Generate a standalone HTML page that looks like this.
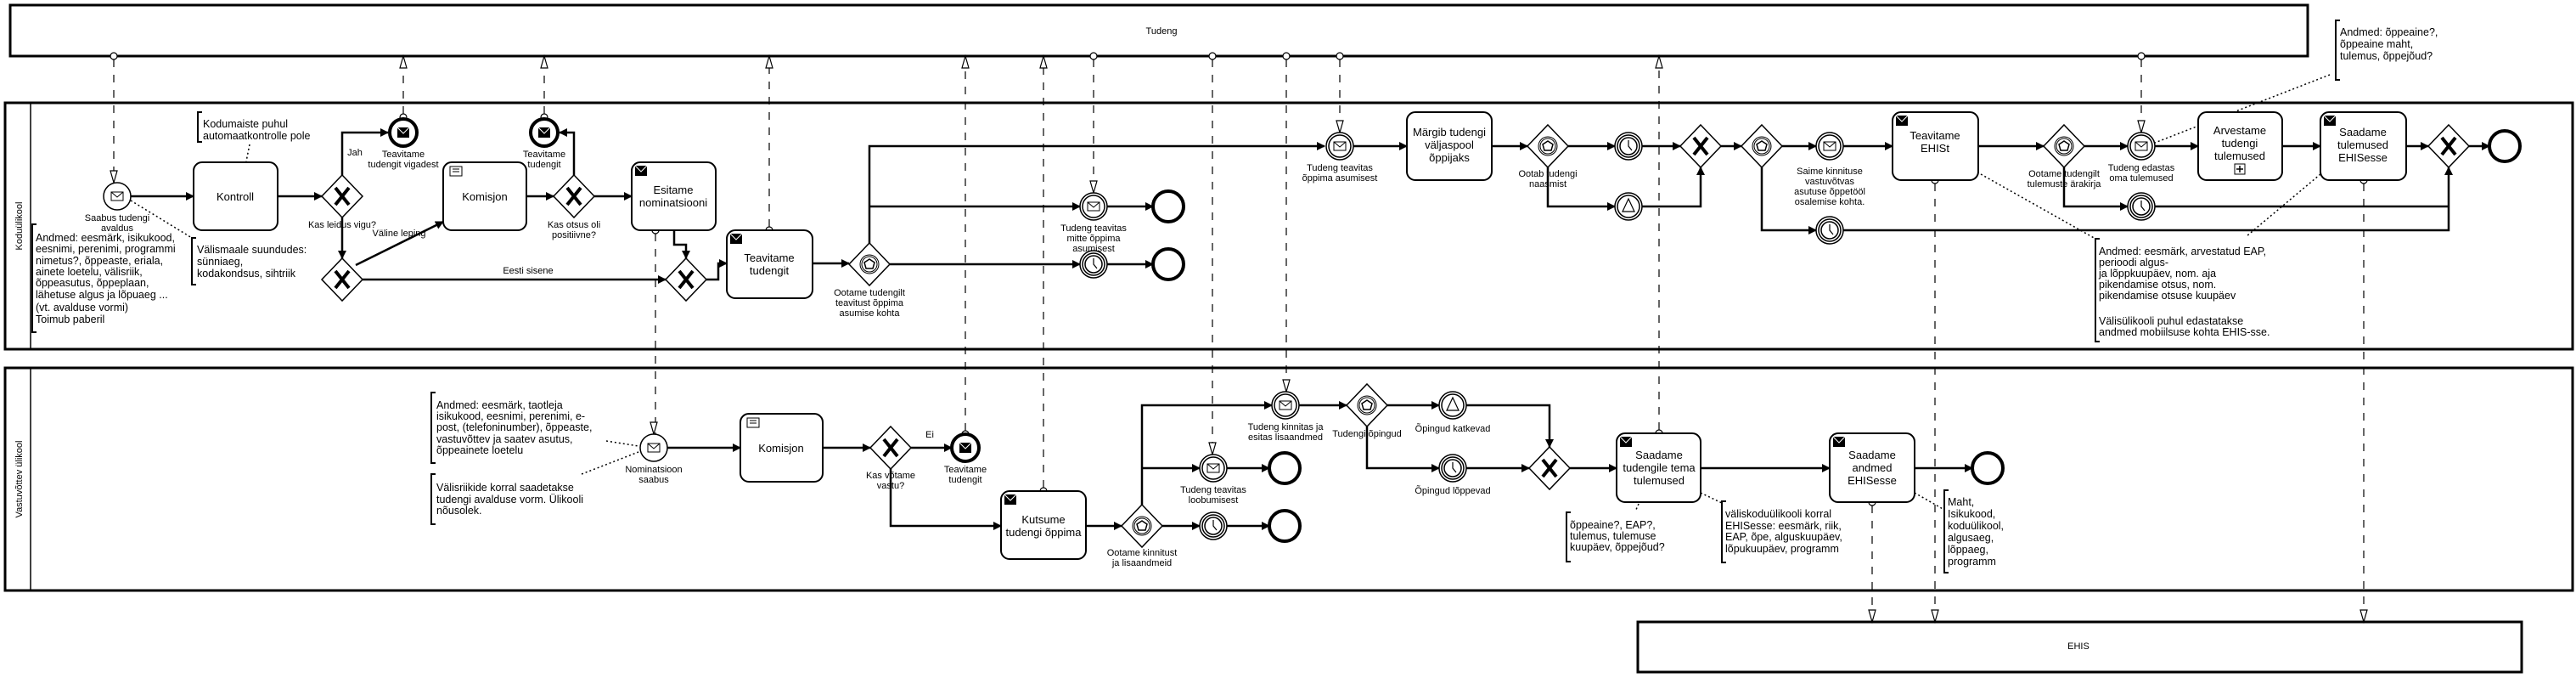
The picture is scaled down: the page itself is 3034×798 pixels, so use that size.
<!DOCTYPE html>
<html><head><meta charset="utf-8"><style>
html,body{margin:0;padding:0;background:#fff}
svg{display:block}
text{font-family:"Liberation Sans Narrow","Liberation Sans",sans-serif;fill:#000}
.t{font-size:13px;text-anchor:middle}
.l{font-size:11px;text-anchor:middle}
.a{font-size:12.5px}
.f{fill:none;stroke:#000;stroke-width:2.5}
.m{fill:none;stroke:#000;stroke-width:1.2;stroke-dasharray:9 9}
.d{fill:none;stroke:#000;stroke-width:1.5;stroke-dasharray:2 3}
.task{fill:#fff;stroke:#000;stroke-width:2}
.ev{fill:#fff;stroke:#000;stroke-width:1.5}
.end{fill:#fff;stroke:#000;stroke-width:4}
.gw{fill:#fff;stroke:#000;stroke-width:1.5}
.br{fill:none;stroke:#000;stroke-width:2}
</style></head><body>
<svg width="3034" height="798" viewBox="0 0 3034 798" xmlns="http://www.w3.org/2000/svg">
<defs>
<marker id="ar" markerWidth="10" markerHeight="10" refX="9" refY="5" orient="auto" markerUnits="userSpaceOnUse"><path d="M0,0 L10,5 L0,10z" fill="#000"/></marker>
<g id="env"><rect x="-7" y="-5" width="14" height="10" fill="#fff" stroke="#000" stroke-width="1"/><path d="M-7,-5 L0,1 L7,-5" fill="none" stroke="#000" stroke-width="1"/></g>
<g id="envb"><rect x="-7" y="-6" width="14" height="12" fill="#000"/><path d="M-7,-6 L0,1 L7,-6" fill="none" stroke="#fff" stroke-width="1"/></g>
<g id="icat"><circle r="16" class="ev"/><circle r="13" class="ev"/><use href="#env"/></g>
<g id="start"><circle r="16" class="ev"/><use href="#env"/></g>
<g id="endm"><circle r="16" class="end"/><use href="#envb"/></g>
<g id="endp"><circle r="18" class="end"/></g>
<g id="tim"><circle r="16" class="ev"/><circle r="13" class="ev"/><circle r="10" fill="#fff" stroke="#000" stroke-width="1.5"/><path d="M0,-7 L0,0 L4,5" fill="none" stroke="#000" stroke-width="1.2"/></g>
<g id="sig"><circle r="16" class="ev"/><circle r="13" class="ev"/><path d="M0,-9 L7,6 L-7,6z" fill="#fff" stroke="#000" stroke-width="1.2"/></g>
<g id="gx"><path d="M0,-25 L24,0 L0,25 L-24,0z" class="gw"/><path d="M-8,-10 L8,10 M8,-10 L-8,10" stroke="#000" stroke-width="4"/></g>
<g id="ge"><path d="M0,-25 L24,0 L0,25 L-24,0z" class="gw"/><circle r="11" fill="none" stroke="#000" stroke-width="1"/><circle r="9" fill="none" stroke="#000" stroke-width="1"/><path d="M0,-6 L6,-2 L4,5 L-4,5 L-6,-2z" fill="none" stroke="#000" stroke-width="1.5"/></g>
<g id="mc"><circle r="4" fill="#fff" stroke="#000" stroke-width="1.2"/></g>
<g id="tu"><path d="M-4,14 L4,14 L0,0z" fill="#fff" stroke="#000" stroke-width="1.2"/></g>
<g id="td"><path d="M-4,-14 L4,-14 L0,0z" fill="#fff" stroke="#000" stroke-width="1.2"/></g>
</defs>

<rect x="12" y="6" width="2706" height="60" fill="none" stroke="#000" stroke-width="3"/>
<text x="1368" y="40" class="l">Tudeng</text>
<rect x="6" y="121" width="3024" height="290" fill="none" stroke="#000" stroke-width="3"/>
<line x1="36" y1="121" x2="36" y2="411" stroke="#000" stroke-width="1.5"/>
<text class="l" transform="translate(26,266) rotate(-90)">Koduülikool</text>
<rect x="6" y="433" width="3024" height="262" fill="none" stroke="#000" stroke-width="3"/>
<line x1="36" y1="433" x2="36" y2="695" stroke="#000" stroke-width="1.5"/>
<text class="l" transform="translate(26,564) rotate(-90)">Vastuvõttev ülikool</text>
<rect x="1929" y="732" width="1041" height="59" fill="none" stroke="#000" stroke-width="3"/>
<text x="2448" y="764" class="l">EHIS</text>

<g>
<path class="m" d="M134,70 V215"/><use href="#mc" x="134" y="66"/><use href="#td" x="134" y="215"/>
<path class="m" d="M475,134 V80"/><use href="#mc" x="475" y="138"/><use href="#tu" x="475" y="66"/>
<path class="m" d="M641,134 V80"/><use href="#mc" x="641" y="138"/><use href="#tu" x="641" y="66"/>
<path class="m" d="M906,267 V80"/><use href="#mc" x="906" y="271"/><use href="#tu" x="906" y="66"/>
<path class="m" d="M1137,507 V80"/><use href="#mc" x="1137" y="511"/><use href="#tu" x="1137" y="66"/>
<path class="m" d="M1229,574 V80"/><use href="#mc" x="1229" y="578"/><use href="#tu" x="1229" y="66"/>
<path class="m" d="M1954,506 V80"/><use href="#mc" x="1954" y="510"/><use href="#tu" x="1954" y="66"/>
<path class="m" d="M1288,70 V227"/><use href="#mc" x="1288" y="66"/><use href="#td" x="1288" y="227"/>
<path class="m" d="M1428,70 V535"/><use href="#mc" x="1428" y="66"/><use href="#td" x="1428" y="535"/>
<path class="m" d="M1515,70 V461"/><use href="#mc" x="1515" y="66"/><use href="#td" x="1515" y="461"/>
<path class="m" d="M1578,70 V156"/><use href="#mc" x="1578" y="66"/><use href="#td" x="1578" y="156"/>
<path class="m" d="M2522,70 V156"/><use href="#mc" x="2522" y="66"/><use href="#td" x="2522" y="156"/>
<path class="m" d="M772,275 V511"/><use href="#mc" x="772" y="271"/><use href="#td" x="770" y="511"/>
<path class="m" d="M2279,216 V732"/><use href="#mc" x="2279" y="212"/><use href="#td" x="2279" y="732"/>
<path class="m" d="M2784,216 V732"/><use href="#mc" x="2784" y="212"/><use href="#td" x="2784" y="732"/>
<path class="m" d="M2205,595 V732"/><use href="#mc" x="2205" y="591"/><use href="#td" x="2205" y="732"/>
</g>

<g class="f" marker-end="url(#ar)">
<path d="M154,231 H228"/>
<path d="M327,231 H379"/>
<path d="M403,206 V156 H457"/>
<path d="M403,256 V304"/>
<path d="M419,312 L522,261"/>
<path d="M427,329 H784"/>
<path d="M620,231 H652"/>
<path d="M676,206 V156 H659"/>
<path d="M700,231 H744"/>
<path d="M794,271 V288 H808 V304"/>
<path d="M832,329 H846 V310 H856"/>
<path d="M957,310 H1000"/>
<path d="M1024,286 V172 H1560"/>
<path d="M1024,243 H1272"/>
<path d="M1048,311 H1272"/>
<path d="M1304,243 H1358"/>
<path d="M1304,311 H1358"/>
<path d="M1594,172 H1657"/>
<path d="M1757,172 H1799"/>
<path d="M1847,172 H1902"/>
<path d="M1823,197 V243 H1902"/>
<path d="M1934,172 H1979"/>
<path d="M1934,243 H2003 V197"/>
<path d="M2027,172 H2051"/>
<path d="M2099,172 H2139"/>
<path d="M2171,172 H2229"/>
<path d="M2075,197 V271 H2139"/>
<path d="M2171,271 H2884 V197"/>
<path d="M2330,172 H2407"/>
<path d="M2455,172 H2506"/>
<path d="M2431,197 V243 H2506"/>
<path d="M2538,172 H2589"/>
<path d="M2688,172 H2733"/>
<path d="M2834,172 H2860"/>
<path d="M2908,172 H2932"/>
</g>
<path class="f" d="M2538,243 H2884"/>

<g class="f" marker-end="url(#ar)">
<path d="M786,527 H872"/>
<path d="M969,527 H1025"/>
<path d="M1073,527 H1121"/>
<path d="M1049,552 V619 H1179"/>
<path d="M1279,619 H1321"/>
<path d="M1345,594 V477 H1498"/>
<path d="M1345,551 H1413"/>
<path d="M1369,619 H1413"/>
<path d="M1445,551 H1495"/>
<path d="M1445,619 H1495"/>
<path d="M1530,477 H1586"/>
<path d="M1634,477 H1695"/>
<path d="M1610,502 V551 H1695"/>
<path d="M1727,477 H1825 V526"/>
<path d="M1727,551 H1801"/>
<path d="M1849,551 H1904"/>
<path d="M2003,551 H2155"/>
<path d="M2255,551 H2323"/>
</g>

<g class="d">
<path d="M294,170 L290,190"/>
<path d="M154,236 L226,280"/>
<path d="M2744,88 L2538,168"/>
<path d="M2333,205 L2468,281"/>
<path d="M2733,205 L2646,278"/>
<path d="M714,519 L752,525"/>
<path d="M685,558 L752,532"/>
<path d="M1930,593 L1926,602"/>
<path d="M2003,580 L2028,592"/>
<path d="M2255,580 L2290,600"/>
</g>

<rect x="228" y="191" width="99" height="80" rx="10" class="task"/><text x="277" y="236" class="t">Kontroll</text>
<rect x="522" y="191" width="98" height="80" rx="10" class="task"/><text x="571" y="236" class="t">Komisjon</text>
<g transform="translate(530,196)"><rect width="14" height="11" fill="#fff" stroke="#000" stroke-width="1"/><path d="M3,3 h8 M3,6 h8" stroke="#000" stroke-width="1"/></g>
<rect x="744" y="191" width="99" height="80" rx="10" class="task"/><use href="#envb" x="755" y="201"/><text x="793" y="228" class="t">Esitame</text><text x="793" y="243" class="t">nominatsiooni</text>
<rect x="856" y="271" width="101" height="80" rx="10" class="task"/><use href="#envb" x="867" y="281"/><text x="906" y="308" class="t">Teavitame</text><text x="906" y="323" class="t">tudengit</text>
<rect x="1657" y="132" width="100" height="80" rx="10" class="task"/><text x="1707" y="160" class="t">Märgib tudengi</text><text x="1707" y="175" class="t">väljaspool</text><text x="1707" y="190" class="t">õppijaks</text>
<rect x="2229" y="132" width="101" height="80" rx="10" class="task"/><use href="#envb" x="2240" y="142"/><text x="2279" y="164" class="t">Teavitame</text><text x="2279" y="179" class="t">EHISt</text>
<rect x="2589" y="132" width="99" height="80" rx="10" class="task"/><text x="2638" y="158" class="t">Arvestame</text><text x="2638" y="173" class="t">tudengi</text><text x="2638" y="188" class="t">tulemused</text>
<rect x="2632" y="193" width="12" height="12" fill="#fff" stroke="#000" stroke-width="1"/><path d="M2638,195 V203 M2634,199 H2642" stroke="#000" stroke-width="1.5"/>
<rect x="2733" y="132" width="101" height="80" rx="10" class="task"/><use href="#envb" x="2744" y="142"/><text x="2783" y="160" class="t">Saadame</text><text x="2783" y="175" class="t">tulemused</text><text x="2783" y="190" class="t">EHISesse</text>

<rect x="872" y="487" width="97" height="80" rx="10" class="task"/><text x="920" y="532" class="t">Komisjon</text>
<g transform="translate(880,492)"><rect width="14" height="11" fill="#fff" stroke="#000" stroke-width="1"/><path d="M3,3 h8 M3,6 h8" stroke="#000" stroke-width="1"/></g>
<rect x="1179" y="578" width="100" height="80" rx="10" class="task"/><use href="#envb" x="1190" y="588"/><text x="1229" y="616" class="t">Kutsume</text><text x="1229" y="631" class="t">tudengi õppima</text>
<rect x="1904" y="510" width="99" height="81" rx="10" class="task"/><use href="#envb" x="1915" y="520"/><text x="1954" y="540" class="t">Saadame</text><text x="1954" y="555" class="t">tudengile tema</text><text x="1954" y="570" class="t">tulemused</text>
<rect x="2155" y="510" width="100" height="81" rx="10" class="task"/><use href="#envb" x="2166" y="520"/><text x="2205" y="540" class="t">Saadame</text><text x="2205" y="555" class="t">andmed</text><text x="2205" y="570" class="t">EHISesse</text>

<use href="#start" x="138" y="231"/>
<text x="138" y="260" class="l">Saabus tudengi</text><text x="138" y="272" class="l">avaldus</text>
<use href="#gx" x="403" y="231"/><text x="403" y="268" class="l">Kas leidus vigu?</text>
<text x="418" y="183" class="l">Jah</text>
<use href="#endm" x="475" y="156"/><text x="475" y="185" class="l">Teavitame</text><text x="475" y="197" class="l">tudengit vigadest</text>
<use href="#gx" x="403" y="329"/>
<text x="470" y="278" class="l">Väline leping</text>
<use href="#gx" x="676" y="231"/><text x="676" y="268" class="l">Kas otsus oli</text><text x="676" y="280" class="l">positiivne?</text>
<use href="#endm" x="641" y="156"/><text x="641" y="185" class="l">Teavitame</text><text x="641" y="197" class="l">tudengit</text>
<use href="#gx" x="808" y="329"/>
<text x="622" y="322" class="l">Eesti sisene</text>
<use href="#ge" x="1024" y="311"/><text x="1024" y="348" class="l">Ootame tudengilt</text><text x="1024" y="360" class="l">teavitust õppima</text><text x="1024" y="372" class="l">asumise kohta</text>
<use href="#icat" x="1288" y="243"/><text x="1288" y="272" class="l">Tudeng teavitas</text><text x="1288" y="284" class="l">mitte õppima</text><text x="1288" y="296" class="l">asumisest</text>
<use href="#endp" x="1376" y="243"/>
<use href="#tim" x="1288" y="311"/><use href="#endp" x="1376" y="311"/>
<use href="#icat" x="1578" y="172"/><text x="1578" y="201" class="l">Tudeng teavitas</text><text x="1578" y="213" class="l">õppima asumisest</text>
<use href="#ge" x="1823" y="172"/><text x="1823" y="208" class="l">Ootab tudengi</text><text x="1823" y="220" class="l">naasmist</text>
<use href="#tim" x="1918" y="172"/><use href="#sig" x="1918" y="243"/>
<use href="#gx" x="2003" y="172"/>
<use href="#ge" x="2075" y="172"/>
<use href="#icat" x="2155" y="172"/><text x="2155" y="205" class="l">Saime kinnituse</text><text x="2155" y="217" class="l">vastuvõtvas</text><text x="2155" y="229" class="l">asutuse õppetööl</text><text x="2155" y="241" class="l">osalemise kohta.</text>
<use href="#tim" x="2155" y="271"/>
<use href="#ge" x="2431" y="172"/><text x="2431" y="208" class="l">Ootame tudengilt</text><text x="2431" y="220" class="l">tulemuste ärakirja</text>
<use href="#icat" x="2522" y="172"/><text x="2522" y="201" class="l">Tudeng edastas</text><text x="2522" y="213" class="l">oma tulemused</text>
<use href="#tim" x="2522" y="243"/>
<use href="#gx" x="2884" y="172"/>
<use href="#endp" x="2950" y="172"/>

<use href="#start" x="770" y="527"/><text x="770" y="556" class="l">Nominatsioon</text><text x="770" y="568" class="l">saabus</text>
<use href="#gx" x="1049" y="527"/><text x="1049" y="563" class="l">Kas võtame</text><text x="1049" y="575" class="l">vastu?</text>
<text x="1095" y="515" class="l">Ei</text>
<use href="#endm" x="1137" y="527"/><text x="1137" y="556" class="l">Teavitame</text><text x="1137" y="568" class="l">tudengit</text>
<use href="#ge" x="1345" y="619"/><text x="1345" y="654" class="l">Ootame kinnitust</text><text x="1345" y="666" class="l">ja lisaandmeid</text>
<use href="#icat" x="1514" y="477"/><text x="1514" y="506" class="l">Tudeng kinnitas ja</text><text x="1514" y="518" class="l">esitas lisaandmed</text>
<use href="#icat" x="1429" y="551"/><text x="1429" y="580" class="l">Tudeng teavitas</text><text x="1429" y="592" class="l">loobumisest</text>
<use href="#endp" x="1513" y="551"/>
<use href="#tim" x="1429" y="619"/><use href="#endp" x="1513" y="619"/>
<use href="#ge" x="1610" y="477"/><text x="1610" y="514" class="l">Tudengi õpingud</text>
<use href="#sig" x="1711" y="477"/><text x="1711" y="508" class="l">Õpingud katkevad</text>
<use href="#tim" x="1711" y="551"/><text x="1711" y="581" class="l">Õpingud lõppevad</text>
<use href="#gx" x="1825" y="551"/>
<use href="#endp" x="2341" y="551"/>

<path class="br" d="M238,132 H233 V167 H238"/>
<text class="a" x="239" y="150">Kodumaiste puhul</text><text class="a" x="239" y="164">automaatkontrolle pole</text>
<path class="br" d="M43,264 H38 V391 H43"/>
<g class="a">
<text x="42" y="284">Andmed: eesmärk, isikukood,</text>
<text x="42" y="297">eesnimi, perenimi, programmi</text>
<text x="42" y="311">nimetus?, õppeaste, eriala,</text>
<text x="42" y="324">ainete loetelu, välisriik,</text>
<text x="42" y="337">õppeasutus, õppeplaan,</text>
<text x="42" y="351">lähetuse algus ja lõpuaeg ...</text>
<text x="42" y="366">(vt. avalduse vormi)</text>
<text x="42" y="380">Toimub paberil</text>
</g>
<path class="br" d="M231,280 H226 V335 H231"/>
<g class="a"><text x="232" y="298">Välismaale suundudes:</text><text x="232" y="312">sünniaeg,</text><text x="232" y="326">kodakondsus, sihtriik</text></g>
<path class="br" d="M2756,24 H2751 V94 H2756"/>
<g class="a"><text x="2756" y="42">Andmed: õppeaine?,</text><text x="2756" y="56">õppeaine maht,</text><text x="2756" y="70">tulemus, õppejõud?</text></g>
<path class="br" d="M2473,281 H2468 V402 H2473"/>
<g class="a">
<text x="2472" y="300">Andmed: eesmärk, arvestatud EAP,</text>
<text x="2472" y="313">perioodi algus-</text>
<text x="2472" y="326">ja lõppkuupäev, nom. aja</text>
<text x="2472" y="339">pikendamise otsus, nom.</text>
<text x="2472" y="352">pikendamise otsuse kuupäev</text>
<text x="2472" y="382">Välisülikooli puhul edastatakse</text>
<text x="2472" y="395">andmed mobiilsuse kohta EHIS-sse.</text>
</g>
<path class="br" d="M513,462 H508 V545 H513"/>
<g class="a">
<text x="514" y="481">Andmed: eesmärk, taotleja</text>
<text x="514" y="494">isikukood, eesnimi, perenimi, e-</text>
<text x="514" y="507">post, (telefoninumber), õppeaste,</text>
<text x="514" y="521">vastuvõttev ja saatev asutus,</text>
<text x="514" y="534">õppeainete loetelu</text>
</g>
<path class="br" d="M513,558 H508 V617 H513"/>
<g class="a"><text x="514" y="578">Välisriikide korral saadetakse</text><text x="514" y="592">tudengi avalduse vorm. Ülikooli</text><text x="514" y="605">nõusolek.</text></g>
<path class="br" d="M1850,603 H1845 V661 H1850"/>
<g class="a"><text x="1849" y="622">õppeaine?, EAP?,</text><text x="1849" y="635">tulemus, tulemuse</text><text x="1849" y="648">kuupäev, õppejõud?</text></g>
<path class="br" d="M2033,590 H2028 V662 H2033"/>
<g class="a"><text x="2032" y="609">väliskoduülikooli korral</text><text x="2032" y="623">EHISesse: eesmärk, riik,</text><text x="2032" y="636">EAP, õpe, alguskuupäev,</text><text x="2032" y="650">lõpukuupäev, programm</text></g>
<path class="br" d="M2295,577 H2290 V674 H2295"/>
<g class="a"><text x="2294" y="595">Maht,</text><text x="2294" y="609">Isikukood,</text><text x="2294" y="623">koduülikool,</text><text x="2294" y="637">algusaeg,</text><text x="2294" y="651">lõppaeg,</text><text x="2294" y="665">programm</text></g>
</svg>
</body></html>
